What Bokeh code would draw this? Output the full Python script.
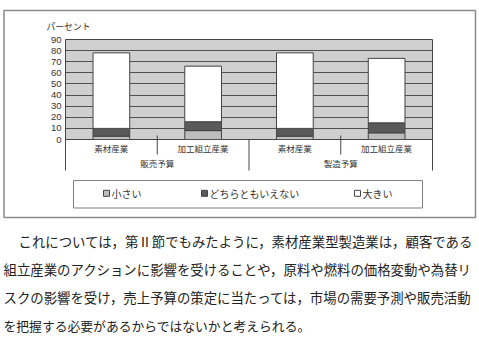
from bokeh.plotting import figure
from bokeh.models import FactorRange, Range1d, FixedTicker, ColumnDataSource
from bokeh.core.properties import value
from bokeh.embed import file_html
from bokeh.resources import INLINE

# ---------------- data ----------------
budget_groups = ["販売予算", "販売予算", "製造予算", "製造予算"]
industries = ["素材産業", "加工組立産業", "素材産業", "加工組立産業"]
small = [3, 8, 3, 6]
neither = [7, 8, 7, 9]
large = [68, 50, 68, 58]
series_names = ["小さい", "どちらともいえない", "大きい"]
series_colors = ["#bdbdbd", "#5a5a5a", "#ffffff"]
y_ticks = [0, 10, 20, 30, 40, 50, 60, 70, 80, 90]
y_unit_label = "パーセント"
paragraph_lines = [
    "これについては，第Ⅱ節でもみたように，素材産業型製造業は，顧客である",
    "組立産業のアクションに影響を受けることや，原料や燃料の価格変動や為替リ",
    "スクの影響を受け，売上予算の策定に当たっては，市場の需要予測や販売活動",
    "を把握する必要があるからではないかと考えられる。",
]

# ---------------- layout ----------------
W, H = 479, 339
FL, FR, FT, FB = 65, 432, 39, 139
FW, FH = FR - FL, FB - FT
YMAX = 90
N = len(industries)

def dx(px):
    return (px - FL) / (FW / N)

def dy(py):
    return (FB - py) / (FH / YMAX)

JP = "Noto Sans CJK JP"
factors = list(zip(budget_groups, industries))

p = figure(width=W, height=H,
           x_range=FactorRange(*factors, range_padding=0, group_padding=0, factor_padding=0,
                               subgroup_padding=0),
           y_range=Range1d(0, YMAX),
           min_border_left=FL, min_border_right=W - FR,
           min_border_top=FT, min_border_bottom=H - FB,
           output_backend="svg", toolbar_location=None,
           background_fill_color="#cfcfcf", border_fill_color="white",
           outline_line_color="#444444", outline_line_width=1)

src = ColumnDataSource(dict(x=factors, small=small, neither=neither, large=large))
rs = p.vbar_stack(["small", "neither", "large"], x="x", width=0.4, source=src,
                  fill_color=series_colors, line_color="#444444", line_width=1)

# axes
p.yaxis.ticker = FixedTicker(ticks=y_ticks)
p.yaxis.axis_line_color = None
p.yaxis.major_tick_line_color = None
p.yaxis.minor_tick_line_color = None
p.yaxis.major_tick_out = 0
p.yaxis.minor_tick_out = 0
p.yaxis.major_label_standoff = 4
p.yaxis.major_label_text_font = "Liberation Sans"
p.yaxis.major_label_text_font_size = "9.5px"
p.yaxis.major_label_text_color = "#333333"

p.xaxis.axis_line_color = None
p.xaxis.major_tick_line_color = None
p.xaxis.minor_tick_line_color = None
p.xaxis.major_tick_out = 2
p.xaxis.minor_tick_out = 0
p.xaxis.separator_line_color = None
p.xaxis.major_label_standoff = 0
p.xaxis.major_label_text_font = JP
p.xaxis.major_label_text_font_size = "8.5px"
p.xaxis.major_label_text_color = "#333333"
p.xaxis.group_text_font = JP
p.xaxis.group_text_font_size = "8.5px"
p.xaxis.group_text_font_style = "normal"
p.xaxis.group_text_color = "#333333"

p.xgrid.grid_line_color = None
p.ygrid.grid_line_color = "#505050"
p.ygrid.grid_line_width = 1

# outer frame and legend box (drawn outside the plot frame at overlay level)
p.quad(left=[dx(3.5)], right=[dx(475)], top=[dy(10)], bottom=[dy(217)],
       fill_color=None, line_color="#8a8a8a", line_width=1.5, level="overlay")
p.quad(left=[dx(73)], right=[dx(422)], top=[dy(180)], bottom=[dy(207.5)],
       fill_color=None, line_color="#808080", line_width=1, level="overlay")

# category separators below the axis
sub_x, grp_x = [], [0]
for i in range(1, N):
    if budget_groups[i] == budget_groups[i - 1]:
        sub_x.append(i)
    else:
        grp_x.append(i)
grp_x.append(N)
p.segment(x0=sub_x, x1=sub_x, y0=[dy(135)] * len(sub_x), y1=[dy(154)] * len(sub_x),
          line_color="#444444", line_width=1, level="overlay")
p.segment(x0=grp_x, x1=grp_x, y0=[0] * len(grp_x), y1=[dy(170)] * len(grp_x),
          line_color="#444444", line_width=1, level="overlay")

# y unit label
p.text(x=[dx(46)], y=[dy(25.5)], text=[y_unit_label], text_font=value(JP),
       text_font_size="8.8px", text_color="#333333", text_baseline="middle",
       text_align="left", level="overlay")

# legend (swatches + labels)
leg_sq_x = [106, 204, 357]
leg_y = 192.8
half = 3
p.quad(left=[dx(v - half) for v in leg_sq_x], right=[dx(v + half) for v in leg_sq_x],
       top=[dy(leg_y - half)] * 3, bottom=[dy(leg_y + half)] * 3,
       fill_color=series_colors, line_color="#444444", line_width=1, level="overlay")
p.text(x=[dx(v + 5) for v in leg_sq_x], y=[dy(leg_y)] * 3, text=series_names,
       text_font=value(JP), text_font_size="10px", text_color="#333333",
       text_baseline="middle", text_align="left", level="overlay")

# paragraph
line_x = [18, 3, 3, 3]
line_y = [240.5, 268.7, 296.9, 325]
line_size = ["13.4px", "13.4px", "13.4px", "12.8px"]
for t, lx, ly, fs in zip(paragraph_lines, line_x, line_y, line_size):
    p.text(x=[dx(lx)], y=[dy(ly)], text=[t], text_font=value(JP), text_font_size=fs,
           text_color="#222222", text_baseline="middle", text_align="left",
           level="overlay")

open("out.html", "w").write(file_html(p, INLINE))
